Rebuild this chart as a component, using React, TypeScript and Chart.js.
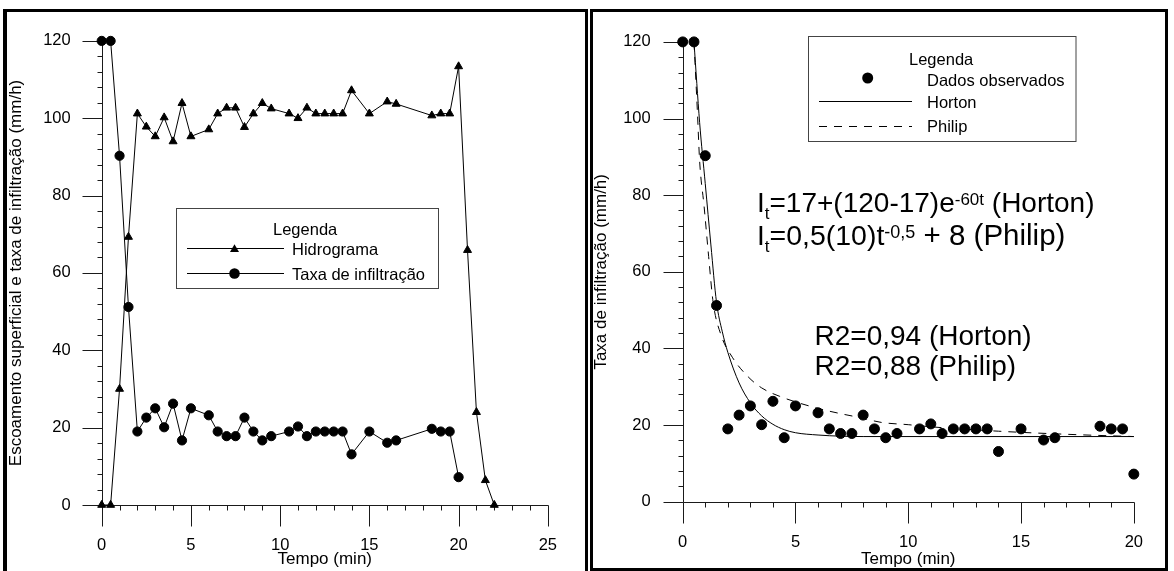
import React, { useEffect, useRef } from 'react';
import { Chart, registerables } from 'chart.js';

Chart.register(...registerables);

const FONT = '"Liberation Sans", Arial, Helvetica, sans-serif';

// ---------- Left panel data ----------
const tempoHidrograma = [0, 0.5, 1, 1.5, 2, 2.5, 3, 3.5, 4, 4.5, 5, 6, 6.5, 7, 7.5, 8, 8.5, 9, 9.5, 10.5, 11, 11.5, 12, 12.5, 13, 13.5, 14, 15, 16, 16.5, 18.5, 19, 19.5, 20, 20.5, 21, 21.5, 22];
const hidrograma = [0, 0, 30, 69.3, 101.2, 97.8, 95.3, 100.2, 94, 103.9, 95.3, 97.1, 101.2, 102.7, 102.7, 97.7, 101.2, 103.9, 102.5, 101.2, 100.0, 102.7, 101.2, 101.2, 101.2, 101.2, 107.2, 101.2, 104.3, 103.7, 100.7, 101.2, 101.2, 113.4, 65.9, 24, 6.4, 0];

const tempoInfiltracao = [0, 0.5, 1, 1.5, 2, 2.5, 3, 3.5, 4, 4.5, 5, 6, 6.5, 7, 7.5, 8, 8.5, 9, 9.5, 10.5, 11, 11.5, 12, 12.5, 13, 13.5, 14, 15, 16, 16.5, 18.5, 19, 19.5, 20];
const taxaInfiltracao = [120, 120, 90.3, 51.2, 19, 22.6, 25, 20.1, 26.2, 16.7, 25, 23.2, 19, 17.8, 17.8, 22.6, 19, 16.7, 17.8, 19, 20.3, 17.8, 19, 19, 19, 19, 13.1, 19, 16.1, 16.7, 19.7, 19, 19, 7.2];

// ---------- Right panel model curves ----------
const tempoHorton = [0.5, 0.75, 1, 1.25, 1.5, 1.75, 2, 2.5, 3, 3.5, 4, 4.5, 5, 6, 7, 8, 20];
const horton = [120, 99, 83, 67, 52, 44.5, 39, 31, 25.8, 22.4, 20.2, 18.8, 18.0, 17.4, 17.1, 17.0, 17.0];

const tempoPhilip = [0.5, 0.65, 0.75, 0.95, 1.15, 1.35, 1.7, 2.2, 2.9, 3.5, 4.3, 5.9, 6.9, 7.9, 8.8, 10, 11.1, 14, 17, 20];
const philip = [120, 102, 89, 77, 64, 52, 43.5, 37.7, 32.6, 29.7, 27.5, 24.5, 23.1, 21.9, 20.7, 20.1, 19.5, 18.4, 17.6, 17.0];

// ---------- Tick labels ----------
const yTicks = [0, 20, 40, 60, 80, 100, 120];
const xTicksLeft = [0, 5, 10, 15, 20, 25];
const xTicksRight = [0, 5, 10, 15, 20];

const pts = (xs: number[], ys: number[]) => xs.map((x, i) => ({ x, y: ys[i] }));

function axesPlugin(id: string, xMax: number, xMajor: number[]) {
  return {
    id,
    beforeDatasetsDraw(chart: any) {
      const { ctx } = chart;
      const xs = chart.scales.x;
      const ys = chart.scales.y;
      const r = (v: number) => Math.round(v) + 0.5;
      const x0 = r(xs.getPixelForValue(0));
      const y0 = r(ys.getPixelForValue(0));
      const yTop = r(ys.getPixelForValue(120));
      const xEnd = r(xs.getPixelForValue(xMax));
      ctx.save();
      ctx.strokeStyle = '#1a1a1a';
      ctx.lineWidth = 1;
      ctx.beginPath();
      ctx.moveTo(x0, yTop);
      ctx.lineTo(x0, y0);
      ctx.moveTo(x0, y0);
      ctx.lineTo(xEnd, y0);
      for (let v = 0; v <= 120; v += 4) {
        const y = r(ys.getPixelForValue(v));
        const len = yTicks.includes(v) ? 20 : 5;
        ctx.moveTo(x0 - len, y);
        ctx.lineTo(x0, y);
      }
      for (let t = 0; t <= xMax; t += 1) {
        const x = r(xs.getPixelForValue(t));
        const len = xMajor.includes(t) ? 21 : 5;
        ctx.moveTo(x, y0);
        ctx.lineTo(x, y0 + len);
      }
      ctx.stroke();
      ctx.restore();
    },
  };
}

function drawTriangle(ctx: CanvasRenderingContext2D, x: number, y: number, r: number) {
  ctx.beginPath();
  ctx.moveTo(x, y - r);
  ctx.lineTo(x + r * 0.866, y + r / 2);
  ctx.lineTo(x - r * 0.866, y + r / 2);
  ctx.closePath();
  ctx.fill();
}
function drawDot(ctx: CanvasRenderingContext2D, x: number, y: number, r: number) {
  ctx.beginPath();
  ctx.arc(x, y, r, 0, Math.PI * 2);
  ctx.fill();
}

const leftLegendPlugin = {
  id: 'leftLegend',
  afterDraw(chart: any) {
    const { ctx } = chart;
    ctx.save();
    ctx.strokeStyle = '#444';
    ctx.lineWidth = 1;
    ctx.strokeRect(176.5, 208.5, 262, 80);
    ctx.fillStyle = '#000';
    ctx.font = `16.5px ${FONT}`;
    ctx.textBaseline = 'alphabetic';
    ctx.fillText('Legenda', 273, 234.5);
    ctx.strokeStyle = '#000';
    ctx.beginPath();
    ctx.moveTo(187, 248.5);
    ctx.lineTo(284, 248.5);
    ctx.moveTo(187, 273.5);
    ctx.lineTo(284, 273.5);
    ctx.stroke();
    drawTriangle(ctx, 234.5, 249.5, 5.2);
    drawDot(ctx, 234.5, 273.5, 5.3);
    ctx.fillText('Hidrograma', 292, 255);
    ctx.fillText('Taxa de infiltração', 292, 280);
    ctx.restore();
  },
};

const OFF = 590;
const rightDecorPlugin = {
  id: 'rightDecor',
  afterDraw(chart: any) {
    const { ctx } = chart;
    ctx.save();
    // legend box
    ctx.strokeStyle = '#444';
    ctx.lineWidth = 1;
    ctx.strokeRect(808.5 - OFF, 36.5, 267.5, 105);
    ctx.fillStyle = '#000';
    ctx.font = `16.5px ${FONT}`;
    ctx.fillText('Legenda', 909 - OFF, 65);
    ctx.fillText('Dados observados', 927 - OFF, 86);
    ctx.fillText('Horton', 927 - OFF, 108.3);
    ctx.fillText('Philip', 927 - OFF, 131.7);
    drawDot(ctx, 867.7 - OFF, 78, 5.5);
    ctx.strokeStyle = '#000';
    ctx.beginPath();
    ctx.moveTo(819 - OFF, 101.5);
    ctx.lineTo(912 - OFF, 101.5);
    ctx.stroke();
    ctx.setLineDash([8, 7]);
    ctx.beginPath();
    ctx.moveTo(819 - OFF, 126.5);
    ctx.lineTo(912 - OFF, 126.5);
    ctx.stroke();
    ctx.setLineDash([]);

    // formulas
    const rich = (x: number, base: number, parts: [string, number, number][]) => {
      for (const [t, s, dy] of parts) {
        ctx.font = `${s}px ${FONT}`;
        ctx.fillText(t, x, base + dy);
        x += ctx.measureText(t).width;
      }
    };
    rich(757 - OFF, 212, [
      ['I', 28, 0],
      ['t', 17, 7],
      ['=17+(120-17)e', 28, 0],
      ['-60t', 17, -7],
      [' (Horton)', 28, 0],
    ]);
    rich(757 - OFF, 245, [
      ['I', 28, 0],
      ['t', 17, 7],
      ['=0,5(10)t', 28.5, 0],
      ['-0,5', 18, -7],
      [' + 8 (Philip)', 29.5, 0],
    ]);
    ctx.font = `28px ${FONT}`;
    ctx.fillText('R2=0,94 (Horton)', 814.5 - OFF, 345);
    ctx.fillText('R2=0,88 (Philip)', 814.5 - OFF, 375);
    ctx.restore();
  },
};

function scaleCommon(ticksArr: number[]) {
  return {
    type: 'linear' as const,
    afterBuildTicks: (s: any) => {
      s.ticks = ticksArr.map((v) => ({ value: v }));
    },
    grid: { display: false, drawTicks: false },
    border: { display: false },
  };
}

function leftConfig(): any {
  return {
    type: 'scatter',
    data: {
      datasets: [
        {
          label: 'Hidrograma',
          data: pts(tempoHidrograma, hidrograma),
          showLine: true,
          borderColor: '#000',
          borderWidth: 1,
          pointStyle: 'triangle',
          pointRadius: 4.6,
          pointBackgroundColor: '#000',
          pointBorderColor: '#000',
          pointBorderWidth: 1,
          clip: false,
        },
        {
          label: 'Taxa de infiltração',
          data: pts(tempoInfiltracao, taxaInfiltracao),
          showLine: true,
          borderColor: '#000',
          borderWidth: 1,
          pointStyle: 'circle',
          pointRadius: 4.6,
          pointBackgroundColor: '#000',
          pointBorderColor: '#000',
          pointBorderWidth: 1,
          clip: false,
        },
      ],
    },
    options: {
      responsive: false,
      animation: false,
      devicePixelRatio: 1,
      layout: { padding: { left: 0, top: 20.7, right: 12.7, bottom: 0 } },
      plugins: { legend: { display: false }, tooltip: { enabled: false } },
      scales: {
        x: {
          ...scaleCommon(xTicksLeft),
          min: 0,
          max: 25,
          afterFit: (s: any) => {
            s.height = 66;
          },
          ticks: { padding: 31, color: '#000', font: { family: FONT, size: 16.5 }, maxRotation: 0, autoSkip: false },
          title: { display: true, text: 'Tempo (min)', color: '#000', font: { family: FONT, size: 17 }, padding: { top: 0, bottom: 1 } },
        },
        y: {
          ...scaleCommon(yTicks),
          min: 0,
          max: 120,
          afterFit: (s: any) => {
            s.width = 101.7;
          },
          ticks: { padding: 31, color: '#000', font: { family: FONT, size: 16.5 } },
          title: {
            display: true,
            text: 'Escoamento superficial e taxa de infiltração (mm/h)',
            color: '#000',
            font: { family: FONT, size: 17 },
            padding: { top: 6, bottom: 0 },
          },
        },
      },
    },
    plugins: [axesPlugin('axesLeft', 25, xTicksLeft), leftLegendPlugin],
  };
}

function rightConfig(): any {
  return {
    type: 'scatter',
    data: {
      datasets: [
        {
          label: 'Dados observados',
          data: pts(tempoInfiltracao, taxaInfiltracao),
          showLine: false,
          pointStyle: 'circle',
          pointRadius: 5,
          pointBackgroundColor: '#000',
          pointBorderColor: '#000',
          pointBorderWidth: 1,
          clip: false,
        },
        {
          label: 'Horton',
          data: pts(tempoHorton, horton),
          showLine: true,
          borderColor: '#000',
          borderWidth: 1,
          pointRadius: 0,
          cubicInterpolationMode: 'monotone',
          clip: false,
        },
        {
          label: 'Philip',
          data: pts(tempoPhilip, philip),
          showLine: true,
          borderColor: '#000',
          borderWidth: 1,
          borderDash: [8, 7],
          pointRadius: 0,
          cubicInterpolationMode: 'monotone',
          clip: false,
        },
      ],
    },
    options: {
      responsive: false,
      animation: false,
      devicePixelRatio: 1,
      layout: { padding: { left: 0, top: 19, right: 14.7, bottom: 0 } },
      plugins: { legend: { display: false }, tooltip: { enabled: false } },
      scales: {
        x: {
          ...scaleCommon(xTicksRight),
          min: 0,
          max: 20,
          afterFit: (s: any) => {
            s.height = 69.3;
          },
          ticks: { padding: 31, color: '#000', font: { family: FONT, size: 16.5 }, maxRotation: 0, autoSkip: false },
          title: { display: true, text: 'Tempo (min)', color: '#000', font: { family: FONT, size: 17 }, padding: { top: 0, bottom: 1.5 } },
        },
        y: {
          ...scaleCommon(yTicks),
          min: 0,
          max: 120,
          afterFit: (s: any) => {
            s.width = 92.7;
          },
          ticks: { padding: 32, color: '#000', font: { family: FONT, size: 16.5 } },
          title: {
            display: true,
            text: 'Taxa de infiltração (mm/h)',
            color: '#000',
            font: { family: FONT, size: 17 },
            padding: { top: 1.6, bottom: 0 },
          },
        },
      },
    },
    plugins: [axesPlugin('axesRight', 20, xTicksRight), rightDecorPlugin],
  };
}

export default function App() {
  const leftRef = useRef<HTMLCanvasElement>(null);
  const rightRef = useRef<HTMLCanvasElement>(null);

  useEffect(() => {
    const c1 = new Chart(leftRef.current as HTMLCanvasElement, leftConfig());
    const c2 = new Chart(rightRef.current as HTMLCanvasElement, rightConfig());
    return () => {
      c1.destroy();
      c2.destroy();
    };
  }, []);

  return (
    <div style={{ position: 'fixed', left: 0, top: 0, width: 1174, height: 571, overflow: 'hidden', background: '#fff' }}>
      <canvas ref={leftRef} width={588} height={571} style={{ position: 'absolute', left: 0, top: 0, width: 588, height: 571 }} />
      <canvas ref={rightRef} width={584} height={571} style={{ position: 'absolute', left: 590, top: 0, width: 584, height: 571 }} />
      <div
        style={{
          position: 'absolute',
          left: 3,
          top: 9,
          width: 585,
          height: 620,
          boxSizing: 'border-box',
          borderLeft: '4px solid #000',
          borderTop: '3px solid #000',
          borderRight: '3px solid #000',
          pointerEvents: 'none',
        }}
      />
      <div
        style={{
          position: 'absolute',
          left: 590,
          top: 9,
          width: 578,
          height: 562,
          boxSizing: 'border-box',
          border: '3px solid #000',
          pointerEvents: 'none',
        }}
      />
    </div>
  );
}
